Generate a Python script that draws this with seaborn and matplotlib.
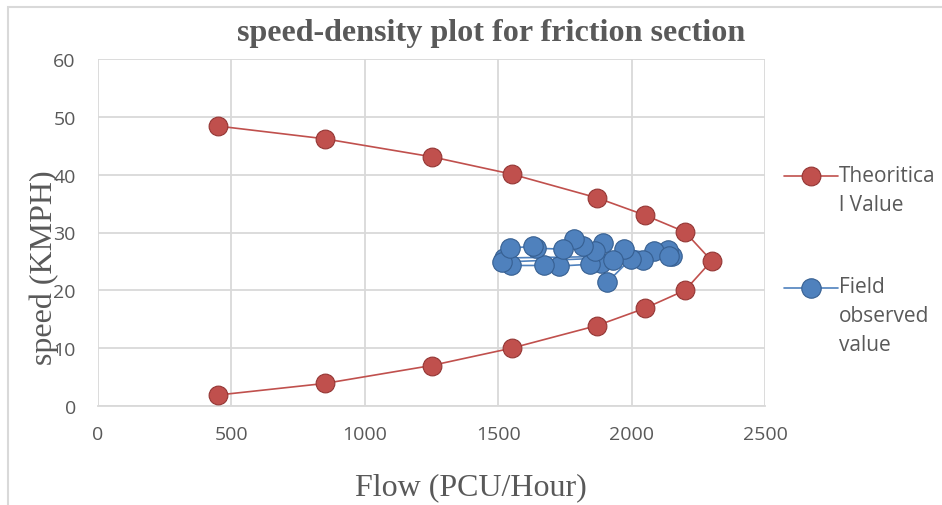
import matplotlib
matplotlib.use("Agg")
import matplotlib.pyplot as plt
import seaborn as sns
import pandas as pd
from matplotlib.patches import Rectangle

# ---------------- data ----------------
theory_flow = [450, 850, 1250, 1550, 1870, 2050, 2200, 2300, 2200, 2050, 1870, 1550, 1250, 850, 450]
theory_speed = [48.4, 46.2, 43.1, 40.1, 36.0, 33.0, 30.1, 25.1, 20.0, 16.9, 13.9, 10.0, 7.0, 3.9, 1.9]

field_flow = [1520, 2150, 2136, 2083, 2043, 1996, 1909, 1887, 1843, 1729, 1672, 1547,
              1516, 2140, 1973, 1929, 1893, 1863, 1816, 1783, 1743, 1643, 1629, 1543]
field_speed = [25.6, 26.0, 27.0, 26.8, 25.3, 25.4, 21.4, 24.7, 24.5, 24.2, 24.3, 24.3,
               24.9, 26.0, 27.1, 25.3, 28.2, 26.8, 27.6, 28.8, 27.1, 27.3, 27.6, 27.3]

series_labels = ["Theoritica\nl Value", "Field\nobserved\nvalue"]
x_ticks = [0, 500, 1000, 1500, 2000, 2500]
y_ticks = [0, 10, 20, 30, 40, 50, 60]
title_text = "speed-density plot for friction section"
x_label = "Flow (PCU/Hour)"
y_label = "speed (KMPH)"

# ---------------- style ----------------
sns.set_theme(style="white")
plt.rcParams["font.family"] = ["Open Sans", "DejaVu Sans"]

RED = "#C0504D"
RED_EDGE = "#943634"
BLUE = "#4F81BD"
BLUE_EDGE = "#365F91"
GRID = "#D9D9D9"
TXT = "#595959"

fig = plt.figure(figsize=(9.42, 5.06), dpi=100)
ax = fig.add_axes([98 / 942, 1 - 407 / 506, (765 - 98) / 942, (407 - 60) / 506])

df_t = pd.DataFrame({"flow": theory_flow, "speed": theory_speed})
df_f = pd.DataFrame({"flow": field_flow, "speed": field_speed})

sns.lineplot(data=df_t, x="flow", y="speed", sort=False, estimator=None, ax=ax,
             color=RED, linewidth=1.2, marker="o", markersize=13.5,
             markerfacecolor=RED, markeredgecolor=RED_EDGE, markeredgewidth=0.8,
             label=series_labels[0], zorder=3)
sns.lineplot(data=df_f, x="flow", y="speed", sort=False, estimator=None, ax=ax,
             color=BLUE, linewidth=1.2, marker="o", markersize=14,
             markerfacecolor=BLUE, markeredgecolor=BLUE_EDGE, markeredgewidth=0.8,
             label=series_labels[1], zorder=4)

ax.set_xlim(0, 2500)
ax.set_ylim(0, 60)
ax.set_xticks(x_ticks)
ax.set_yticks(y_ticks)
ax.set_xticklabels([str(v) for v in x_ticks])
ax.set_yticklabels([str(v) for v in y_ticks])
ax.grid(True, color=GRID, linewidth=1.3)
ax.set_axisbelow(True)
for s in ["top", "right", "left"]:
    ax.spines[s].set_visible(False)
ax.spines["bottom"].set_color(GRID)
ax.spines["bottom"].set_linewidth(1.3)
ax.tick_params(axis="both", length=0, labelsize=14, labelcolor=TXT)
ax.tick_params(axis="y", pad=16)
ax.tick_params(axis="x", pad=14)

ax.set_xlabel(x_label, family=["Liberation Serif", "DejaVu Serif"], fontsize=23, color=TXT)
ax.set_ylabel(y_label, family=["Liberation Serif", "DejaVu Serif"], fontsize=23, color=TXT)
ax.xaxis.set_label_coords((471 - 98) / 667, (407 - 488) / 347)
ax.yaxis.set_label_coords((44 - 98) / 667, (407 - 268) / 347)
ax.yaxis.label.set_verticalalignment("center")
ax.xaxis.label.set_verticalalignment("center")

fig.text(491 / 942, 1 - 33 / 506, title_text, ha="center", va="center",
         family=["Liberation Serif", "DejaVu Serif"], fontweight="bold",
         fontsize=23.1, color=TXT)

# legend
ax.get_legend().remove()
handles, labels = ax.get_legend_handles_labels()
leg = fig.legend(handles, labels, loc="upper left",
                 bbox_to_anchor=(784 / 942, 1 - 166 / 506),
                 frameon=False, fontsize=15, handlelength=2.6,
                 handletextpad=0.05, labelspacing=2.95, borderpad=0,
                 borderaxespad=0)
line_gap_pt = 29 * 72 / 100
for t in leg.get_texts():
    t.set_color(TXT)
    t.set_linespacing(1.5)
for h, lab in zip(leg.legend_handles, labels):
    n = lab.count("\n")
    h.set_ydata([y + n * line_gap_pt / 2 for y in h.get_ydata()])

# outer chart border (left & top visible)
fig.patches.append(Rectangle((8 / 942, -0.1), 1.2, 1.1 - 8 / 506,
                             transform=fig.transFigure, fill=False,
                             edgecolor=GRID, linewidth=1.5))

fig.savefig("out.png", dpi=100)
